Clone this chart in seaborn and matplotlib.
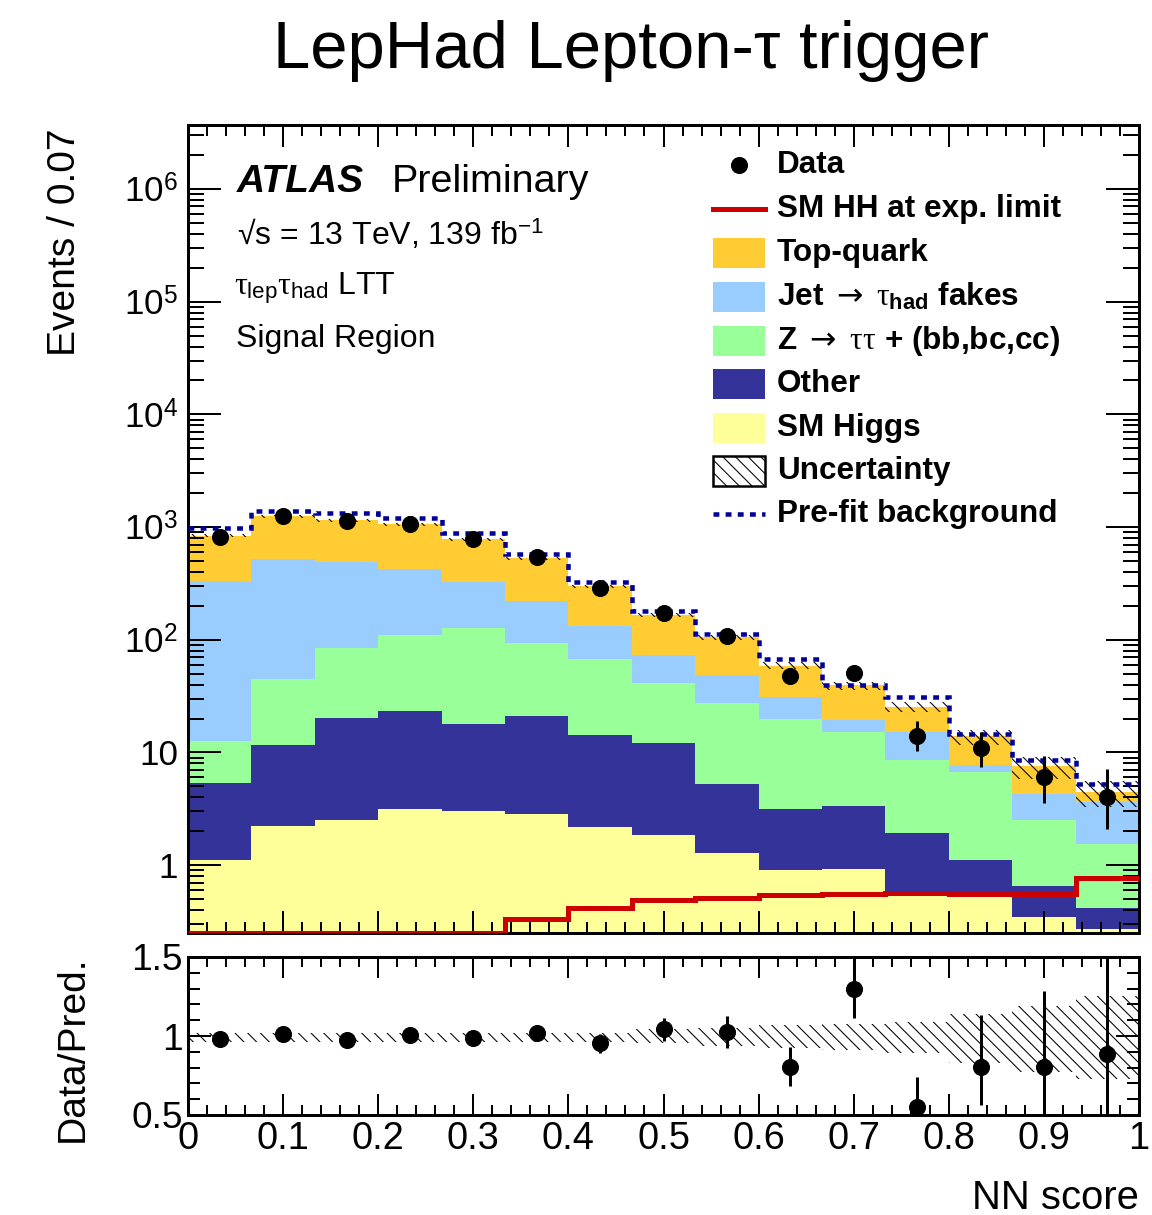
import numpy as np
import pandas as pd
import matplotlib
matplotlib.use("Agg")
import matplotlib.pyplot as plt
import seaborn as sns
from matplotlib.patches import Rectangle
from matplotlib.lines import Line2D
from matplotlib.ticker import (LogLocator, MultipleLocator, FuncFormatter,
                               NullFormatter)

# ---------------------------------------------------------------- data
n_bins = 15
bin_edges = np.linspace(0.0, 1.0, n_bins + 1)

process_order = ["Top-quark", "Jet fakes", "Ztautau HF", "Other", "SM Higgs"]
process_colors = ["#ffcc33", "#99ccff", "#99ff99", "#333399", "#ffff99"]

top_quark = [509, 726, 673, 638, 463, 312, 168, 94, 57, 28, 20, 10.3, 6.1, 3.35, 0.85]
jet_fakes = [320, 474, 407, 318, 199, 127, 65, 31, 21, 11, 4.3, 6.7, 1.1, 1.75, 2.1]
ztautau_hf = [7.3, 33, 64, 87, 109, 73, 53, 29.4, 22.3, 16.8, 11.7, 6.6, 5.6, 1.85, 1.13]
other = [4.2, 9.4, 17.8, 20.2, 14.7, 18.2, 12.0, 10.3, 4.0, 2.26, 2.41, 1.36, 0.58, 0.30, 0.15]
sm_higgs = [1.12, 2.22, 2.51, 3.12, 3.02, 2.82, 2.17, 1.87, 1.29, 0.90, 0.93, 0.58, 0.52, 0.35, 0.27]

sm_hh_limit = [0.25, 0.25, 0.25, 0.25, 0.25, 0.33, 0.42, 0.49, 0.51, 0.54, 0.56, 0.57, 0.55, 0.55, 0.77]
prefit_bkg = [980, 1393, 1337, 1204, 883, 582, 328, 180, 112, 67, 39.5, 31, 14.7, 8.5, 5.2]

data_counts = [824, 1259, 1135, 1072, 781, 544, 286, 174, 108, 48, 51, 14, 11, 6, 4]
data_err_lo = [29, 35, 34, 33, 28, 23, 17, 13, 10, 6.9, 7.1, 3.7, 3.5, 2.45, 1.9]
data_err_hi = [29, 36, 34, 33, 28, 24, 18, 14, 11, 7.9, 8.2, 5.0, 4.2, 3.3, 3.2]

ratio_vals = [0.979, 1.011, 0.975, 1.006, 0.990, 1.021, 0.954, 1.042, 1.027,
              0.805, 1.298, 0.548, 0.805, 0.805, 0.885]
ratio_err_lo = [0.03, 0.03, 0.03, 0.03, 0.035, 0.045, 0.06, 0.075, 0.10,
                0.124, 0.183, 0.14, 0.24, 0.33, 0.50]
ratio_err_hi = [0.03, 0.03, 0.03, 0.03, 0.035, 0.045, 0.06, 0.075, 0.10,
                0.124, 0.20, 0.19, 0.327, 0.48, 0.70]

unc_up = [0.022] * 7 + [0.046, 0.050, 0.067, 0.078, 0.090, 0.137, 0.190, 0.252]
unc_dn = [0.038] * 7 + [0.042, 0.063, 0.074, 0.088, 0.105, 0.168, 0.231, 0.273]

# ---------------------------------------------------------------- style
DPI = 76
W, H = 1152, 1215
HATCH = "\\\\"


def pt(px):
    """pixels -> points at the figure resolution"""
    return px * 72.0 / DPI


plt.rcParams["font.family"] = ["Liberation Sans", "DejaVu Sans"]
plt.rcParams["mathtext.fontset"] = "custom"
plt.rcParams["mathtext.rm"] = "Liberation Sans"
plt.rcParams["mathtext.bf"] = "Liberation Sans:bold"
plt.rcParams["mathtext.it"] = "Liberation Serif"
plt.rcParams["mathtext.sf"] = "DejaVu Sans"
plt.rcParams["hatch.linewidth"] = 1.0
plt.rcParams["axes.linewidth"] = pt(3)

fig = plt.figure(figsize=(W / DPI, H / DPI), dpi=DPI)


def fig_box(x0, y0, x1, y1):
    return [x0 / W, 1 - y1 / H, (x1 - x0) / W, (y1 - y0) / H]


ax = fig.add_axes(fig_box(188, 125, 1139, 933))
axr = fig.add_axes(fig_box(188, 957, 1139, 1115))

centers = 0.5 * (bin_edges[:-1] + bin_edges[1:])
width = bin_edges[1] - bin_edges[0]
nb = len(centers)

# ---------------------------------------------------------------- stacked backgrounds
ax.set_yscale("log")
stack = pd.DataFrame({
    "score": np.tile(centers, len(process_order)),
    "events": np.concatenate([top_quark, jet_fakes, ztautau_hf, other, sm_higgs]),
    "process": np.repeat(process_order, nb),
})
sns.histplot(data=stack, x="score", weights="events", hue="process",
             hue_order=process_order, palette=process_colors,
             multiple="stack", bins=n_bins, binrange=(0.0, 1.0),
             element="step", fill=True, alpha=1.0, linewidth=0,
             legend=False, ax=ax)

total = (np.array(top_quark) + np.array(jet_fakes) + np.array(ztautau_hf)
         + np.array(other) + np.array(sm_higgs))
up = np.array(unc_up)
dn = np.array(unc_dn)

# uncertainty band on the stack
ax.bar(bin_edges[:-1], total * (up + dn), bottom=total * (1 - dn), width=width,
       align="edge", facecolor="none", edgecolor="black", linewidth=0,
       hatch=HATCH, zorder=3)

# signal and pre-fit lines
ax.stairs(sm_hh_limit, bin_edges, baseline=None, color="#cc0000",
          linewidth=pt(5), zorder=4)
ax.stairs(prefit_bkg, bin_edges, baseline=None, color="#000099",
          linewidth=pt(4.5), linestyle=(0, (1.3, 1.4)), zorder=4.5)

# data
ax.errorbar(centers, data_counts, yerr=[data_err_lo, data_err_hi], fmt="o",
            color="black", markersize=pt(16), elinewidth=pt(3), capsize=0,
            zorder=5)

ax.set_xlim(0, 1)
ax.set_ylim(0.25, 3.7e6)
ax.set_xlabel("")
ax.set_ylabel("")


def log_label(v, _):
    e = int(round(np.log10(v)))
    if e == 0:
        return "1"
    if e == 1:
        return "10"
    return r"$10^{%d}$" % e


ax.yaxis.set_major_locator(LogLocator(base=10, numticks=20))
ax.yaxis.set_minor_locator(LogLocator(base=10, subs=np.arange(2, 10), numticks=20))
ax.yaxis.set_major_formatter(FuncFormatter(log_label))
ax.yaxis.set_minor_formatter(NullFormatter())
ax.xaxis.set_major_locator(MultipleLocator(0.1))
ax.xaxis.set_minor_locator(MultipleLocator(0.02))

ax.tick_params(axis="x", which="major", direction="in", length=pt(22),
               width=pt(2), top=True, bottom=True, labelbottom=False)
ax.tick_params(axis="x", which="minor", direction="in", length=pt(11),
               width=pt(2), top=True, bottom=True)
ax.tick_params(axis="y", which="major", direction="in", length=pt(33),
               width=pt(2), left=True, right=True, labelsize=pt(35),
               pad=pt(10))
ax.tick_params(axis="y", which="minor", direction="in", length=pt(16),
               width=pt(2), left=True, right=True)

# ---------------------------------------------------------------- ratio panel
axr.bar(bin_edges[:-1], up + dn, bottom=1 - dn, width=width, align="edge",
        facecolor="none", edgecolor="black", linewidth=0, hatch=HATCH,
        zorder=2)
axr.errorbar(centers, ratio_vals, yerr=[ratio_err_lo, ratio_err_hi], fmt="o",
             color="black", markersize=pt(16), elinewidth=pt(3), capsize=0,
             zorder=5)
axr.set_xlim(0, 1)
axr.set_ylim(0.5, 1.5)
axr.xaxis.set_major_locator(MultipleLocator(0.1))
axr.xaxis.set_minor_locator(MultipleLocator(0.02))
axr.yaxis.set_major_locator(MultipleLocator(0.5))
axr.yaxis.set_minor_locator(MultipleLocator(0.1))
axr.xaxis.set_major_formatter(FuncFormatter(lambda v, _: "%g" % round(v, 2)))
axr.yaxis.set_major_formatter(FuncFormatter(lambda v, _: "%g" % round(v, 2)))
axr.tick_params(axis="x", which="major", direction="in", length=pt(21),
                width=pt(2), top=True, bottom=True, labelsize=pt(38),
                pad=pt(6))
axr.tick_params(axis="x", which="minor", direction="in", length=pt(10),
                width=pt(2), top=True, bottom=True)
axr.tick_params(axis="y", which="major", direction="in", length=pt(23),
                width=pt(2), left=True, right=True, labelsize=pt(37),
                pad=pt(5))
axr.tick_params(axis="y", which="minor", direction="in", length=pt(12),
                width=pt(2), left=True, right=True)

# ---------------------------------------------------------------- text


def ftext(x, y, s, **kw):
    return fig.text(x / W, 1 - y / H, s, **kw)


ftext(631, 68, "LepHad Lepton-τ trigger", ha="center", va="baseline",
      fontsize=pt(67))
ftext(237, 192, "ATLAS", ha="left", va="baseline", fontsize=pt(39),
      fontweight="bold", fontstyle="italic")
ftext(392, 192, "Preliminary", ha="left", va="baseline", fontsize=pt(39.5))
ftext(237, 244, "√s = 13 TeV, 139 fb$^{\\mathrm{-1}}$", ha="left",
      va="baseline", fontsize=pt(32))
ftext(234, 294, r"$\tau_{\mathrm{lep}}\tau_{\mathrm{had}}$ LTT", ha="left",
      va="baseline", fontsize=pt(32))
ftext(236, 347, "Signal Region", ha="left", va="baseline", fontsize=pt(32))

ftext(65, 242, "Events / 0.07", rotation=90, ha="center", va="center",
      fontsize=pt(39))
ftext(73, 1049, "Data/Pred.", rotation=90, ha="center", va="center",
      fontsize=pt(39))
ftext(1139, 1198, "NN score", ha="right", va="center", fontsize=pt(40))

# ---------------------------------------------------------------- legend


def axf(px, py):
    return ((px - 188) / 951.0, (933 - py) / 808.0)


rows = [165, 209, 253, 297, 341, 384, 428, 471, 514]
labels = ["Data", "SM HH at exp. limit", "Top-quark",
          r"Jet $\mathsf{\rightarrow}$ $\tau_{\mathbf{had}}$ fakes",
          r"Z $\mathsf{\rightarrow}$ $\tau\tau$ + (bb,bc,cc)", "Other",
          "SM Higgs", "Uncertainty", "Pre-fit background"]
bx0, bx1 = 713, 765
for i, (yrow, lab) in enumerate(zip(rows, labels)):
    tx, ty = axf(777, yrow)
    ax.text(tx, ty, lab, transform=ax.transAxes, ha="left", va="center",
            fontsize=pt(31.5), fontweight="bold")
    x0, y0 = axf(bx0, yrow + 15)
    x1, y1 = axf(bx1, yrow - 15)
    if i == 0:
        mx, my = axf(739, yrow)
        ax.add_line(Line2D([mx], [my], marker="o", color="black",
                           markersize=pt(16), transform=ax.transAxes))
    elif i == 1:
        lx0, ly = axf(bx0, yrow)
        lx1, _ = axf(bx1, yrow)
        ax.add_line(Line2D([lx0, lx1], [ly, ly], color="#cc0000",
                           linewidth=pt(5), transform=ax.transAxes))
    elif 2 <= i <= 6:
        ax.add_patch(Rectangle((x0, y0), x1 - x0, y1 - y0,
                               facecolor=process_colors[i - 2],
                               edgecolor="none", transform=ax.transAxes))
    elif i == 7:
        ax.add_patch(Rectangle((x0, y0), x1 - x0, y1 - y0,
                               facecolor="none", edgecolor="black",
                               linewidth=pt(2.5), hatch=HATCH,
                               transform=ax.transAxes))
    else:
        lx0, ly = axf(bx0, yrow)
        lx1, _ = axf(bx1, yrow)
        ax.add_line(Line2D([lx0, lx1], [ly, ly], color="#000099",
                           linewidth=pt(4.5), linestyle=(0, (1.3, 1.4)),
                           transform=ax.transAxes))

fig.savefig("out.png", dpi=DPI)
